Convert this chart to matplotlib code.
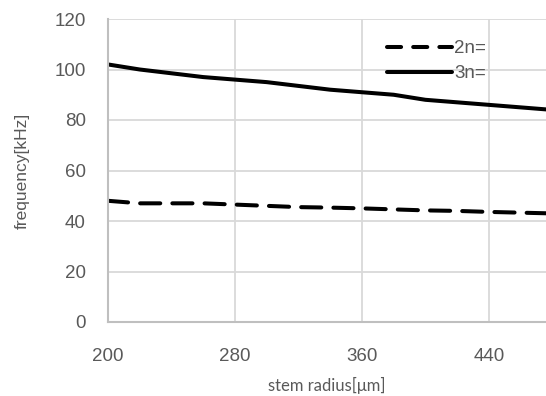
import matplotlib
matplotlib.use("Agg")
import matplotlib.pyplot as plt

radius = [200, 220, 240, 260, 280, 300, 320, 340, 360, 380, 400, 420, 440, 460, 480]
freq_2n = [48, 47, 47, 47, 46.5, 46, 45.5, 45.3, 45, 44.6, 44.2, 44, 43.6, 43.3, 43]
freq_3n = [102, 100, 98.5, 97, 96, 95, 93.5, 92, 91, 90, 88, 87, 86, 85, 84]
labels = ["2n=", "3n="]
xticks = [200, 280, 360, 440]
yticks = [0, 20, 40, 60, 80, 100, 120]

TXT = "#595959"
plt.rcParams['font.family'] = ['Liberation Sans', 'DejaVu Sans']

fig = plt.figure(figsize=(5.46, 3.96), dpi=100)
ax = fig.add_axes([108/546, 74/396, 438/546, 303/396])

lw = 2.9
l2, = ax.plot(radius, freq_2n, color='black', lw=lw, linestyle=(0, (5.0, 3.0)),
              dash_capstyle='round', label=labels[0])
l3, = ax.plot(radius, freq_3n, color='black', lw=lw, solid_capstyle='round', label=labels[1])

ax.set_xlim(200, 476)
ax.set_ylim(0, 120)
ax.set_xticks(xticks)
ax.set_yticks(yticks)
ax.grid(True, color='#d9d9d9', lw=1.3)
ax.set_axisbelow(True)
for s in ['top', 'right']:
    ax.spines[s].set_visible(False)
for s in ['left', 'bottom']:
    ax.spines[s].set_color('#bfbfbf')
    ax.spines[s].set_linewidth(1.5)
ax.tick_params(length=0, labelsize=13.5, labelcolor=TXT)
ax.tick_params(axis='x', pad=19)
ax.tick_params(axis='y', pad=16)

ax.set_ylabel("frequency[kHz]", fontsize=12.5, color=TXT, labelpad=18)
ax.set_xlabel("stem radius[μm]", fontsize=12, color=TXT, family=['Lato', 'DejaVu Sans'], labelpad=8)

leg = ax.legend(loc='upper left', bbox_to_anchor=(0.636, 0.93), frameon=False, fontsize=13.5,
                borderpad=0, borderaxespad=0, handlelength=3.5, handletextpad=0.1,
                labelspacing=0.42)
for t in leg.get_texts():
    t.set_color(TXT)
leg.get_lines()[0].set_linestyle((0, (3.5, 3.0)))

fig.savefig("out.png", dpi=100)
